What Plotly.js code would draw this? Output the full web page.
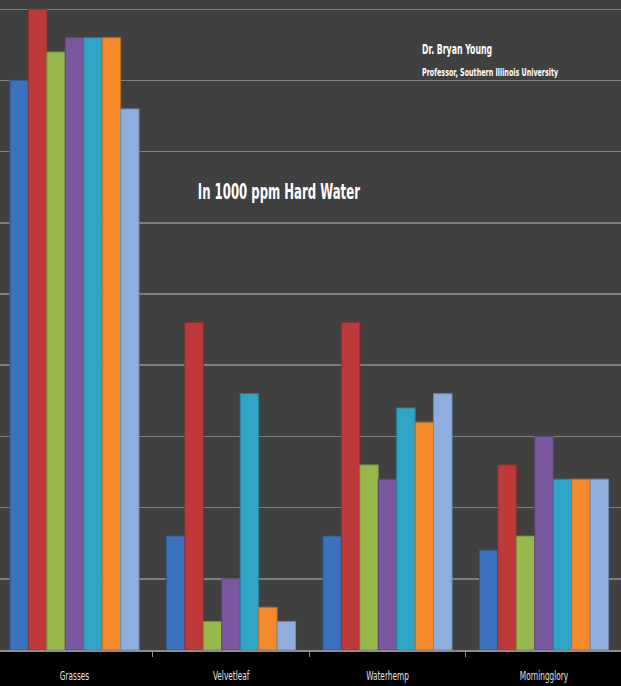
<!DOCTYPE html>
<html>
<head>
<meta charset="utf-8">
<script src="https://cdn.plot.ly/plotly-3.0.1.min.js"></script>
<style>html,body{margin:0;padding:0;background:#000;}#chart{width:621px;height:686px;}</style>
</head>
<body>
<div id="chart"></div>
<script>
// Weed categories
const categories = ["Grasses", "Velvetleaf", "Waterhemp", "Morningglory"];
// Seven treatment series (% control)
const series1 = [80, 16, 16, 14];
const series2 = [90, 46, 46, 26];
const series3 = [84, 4, 26, 16];
const series4 = [86, 10, 24, 30];
const series5 = [86, 36, 34, 24];
const series6 = [86, 6, 32, 24];
const series7 = [76, 4, 36, 24];
const seriesNames = ["Series 1", "Series 2", "Series 3", "Series 4", "Series 5", "Series 6", "Series 7"];
const seriesValues = [series1, series2, series3, series4, series5, series6, series7];
const colors = ["#3a72bd", "#be3a3a", "#97b84b", "#7a58a0", "#30a5c5", "#f58a2a", "#8eaedd"];
const edges = ["#2d5a96", "#962d2d", "#76913a", "#5f447e", "#25829c", "#c26c20", "#7089ae"];

const FONT = "DejaVu Sans Condensed, DejaVu Sans, sans-serif";

const traces = seriesValues.map((vals, i) => ({
  type: "bar",
  name: seriesNames[i],
  x: categories,
  y: vals,
  marker: {color: colors[i], line: {color: edges[i], width: 1}},
  hoverinfo: "x+y"
}));

const layout = {
  width: 621,
  height: 686,
  margin: {l: 0, r: 0, t: 0, b: 36, pad: 0},
  paper_bgcolor: "#000000",
  plot_bgcolor: "#404040",
  showlegend: false,
  barmode: "group",
  bargap: 0.175,
  bargroupgap: 0,
  xaxis: {
    type: "category",
    range: [-0.476, 3.492],
    tickson: "boundaries",
    ticks: "outside",
    ticklen: 5,
    tickcolor: "#8c8c8c",
    tickwidth: 1,
    ticklabelstandoff: 12,
    showline: true,
    linecolor: "#8c8c8c",
    linewidth: 2,
    showgrid: false,
    tickfont: {family: FONT, size: 13, color: "#e0e0e0"},
    fixedrange: true
  },
  yaxis: {
    range: [0, 91.3],
    dtick: 10,
    showgrid: true,
    gridcolor: "#7f7f7f",
    gridwidth: 1.5,
    zeroline: false,
    showticklabels: false,
    ticks: "",
    fixedrange: true
  },
  annotations: [
    {text: "<b>In 1000 ppm Hard Water</b>", xref: "paper", yref: "paper", x: 0.449, y: 0.705,
     xanchor: "center", yanchor: "middle", showarrow: false,
     font: {family: FONT, size: 21, color: "#ffffff"}},
    {text: "<b>Dr. Bryan Young</b>", xref: "paper", yref: "paper", x: 0.677, y: 0.925,
     xanchor: "left", yanchor: "middle", showarrow: false,
     font: {family: FONT, size: 14, color: "#ffffff"}},
    {text: "<b>Professor, Southern Illinois University</b>", xref: "paper", yref: "paper", x: 0.677, y: 0.889,
     xanchor: "left", yanchor: "middle", showarrow: false,
     font: {family: FONT, size: 11, color: "#ffffff"}}
  ]
};

// Horizontally condense text to mimic the narrow typeface of the original
function condense(el, s, anchor) {
  const bb = el.getBBox();
  const cx = anchor === "left" ? bb.x : bb.x + bb.width / 2;
  const prev = el.getAttribute("transform") || "";
  el.setAttribute("transform", prev + " translate(" + cx + ",0) scale(" + s + ",1) translate(" + (-cx) + ",0)");
}

Plotly.newPlot("chart", traces, layout, {displayModeBar: false, staticPlot: true}).then(gd => {
  const ann = gd.querySelectorAll(".annotation-text");
  const scales = [0.62, 0.62, 0.645];
  const anchors = ["center", "left", "left"];
  ann.forEach((t, i) => condense(t, scales[i], anchors[i]));
  gd.querySelectorAll(".xtick text").forEach(t => condense(t, 0.63, "center"));
});
</script>
</body>
</html>
